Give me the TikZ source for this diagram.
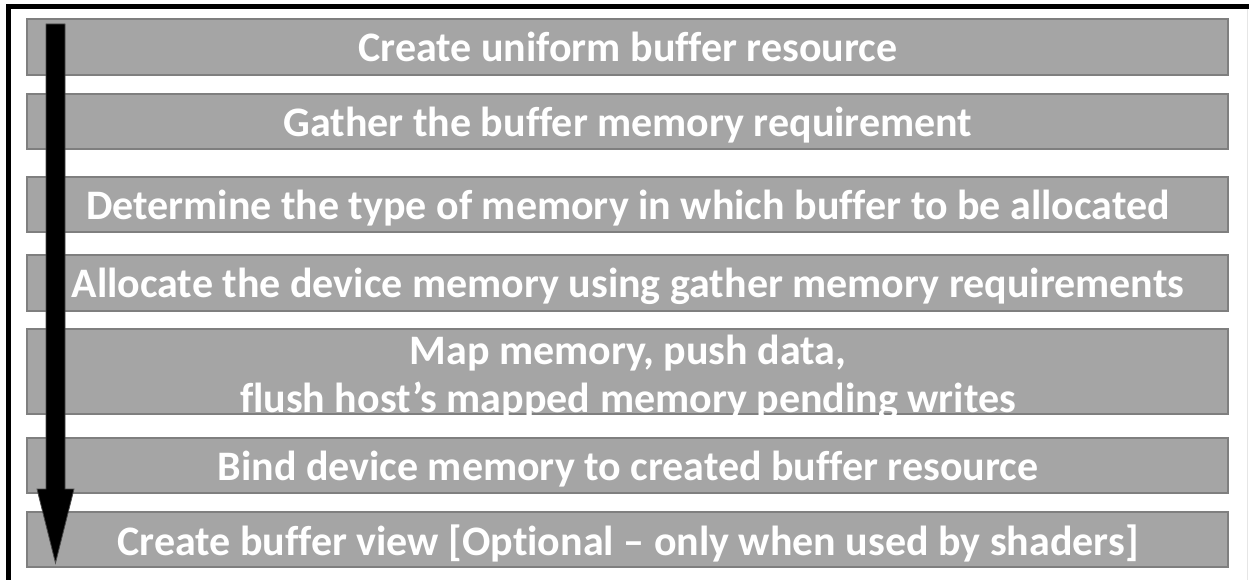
\documentclass[tikz,border=0pt]{standalone}
\usepackage{fontspec}
\setmainfont{Carlito}[Ligatures=NoCommon]
\definecolor{boxfill}{HTML}{A5A5A5}
\definecolor{boxline}{HTML}{7F7F7F}
\definecolor{frameline}{HTML}{E6E6E6}
\tikzset{
  stepbox/.style={draw=boxline, fill=boxfill, line width=1.6pt},
  steptext/.style={text=white, font=\fontsize{42}{49}\selectfont\bfseries, align=center, inner sep=0pt, anchor=base},
}
\begin{document}
\begin{tikzpicture}[x=1pt,y=-1pt]
\useasboundingbox (0,0) rectangle (1249,580);
\fill[white] (0,0) rectangle (1249,580);
% frame
\fill[black] (6,4) rectangle (1249,9);
\fill[black] (6,4) rectangle (11,580);
\draw[frameline, line width=1pt] (1247,9) -- (1247,580);
% boxes
\draw[stepbox] (27,19) rectangle (1228,75);
\draw[stepbox] (27,94) rectangle (1228,149);
\draw[stepbox] (27,177) rectangle (1228,232);
\draw[stepbox] (27,255) rectangle (1228,311);
\draw[stepbox] (27,329) rectangle (1228,414);
\draw[stepbox] (27,438) rectangle (1228,493);
\draw[stepbox] (27,512) rectangle (1228,567);
% texts
\node[steptext] (t1) at (628,62) {Create uniform buffer resource};
\node[steptext] (t2) at (628,137) {Gather the buffer memory requirement};
\node[steptext] (t3) at (628,219) {Determine the type of memory in which buffer to be allocated};
\node[steptext] (t4) at (628,297) {Allocate the device memory using gather memory requirements};
\node[steptext] (t5a) at (628,364) {Map memory, push data,};
\node[steptext] (t5b) at (628,412) {flush host’s mapped memory pending writes};
\node[steptext] (t6) at (628,480) {Bind device memory to created buffer resource};
\node[steptext] (t7) at (628,555) {Create buffer view [Optional – only when used by shaders]};
% arrow
\coordinate (astart) at (55.5,24);
\coordinate (atip) at (55.5,563);
\fill[black, draw=black!70, line width=0.8pt]
  (46,24) -- (65,24) -- (65,489) -- (74,489) -- (atip) -- (37,489) -- (46,489) -- cycle;
\end{tikzpicture}
\end{document}
